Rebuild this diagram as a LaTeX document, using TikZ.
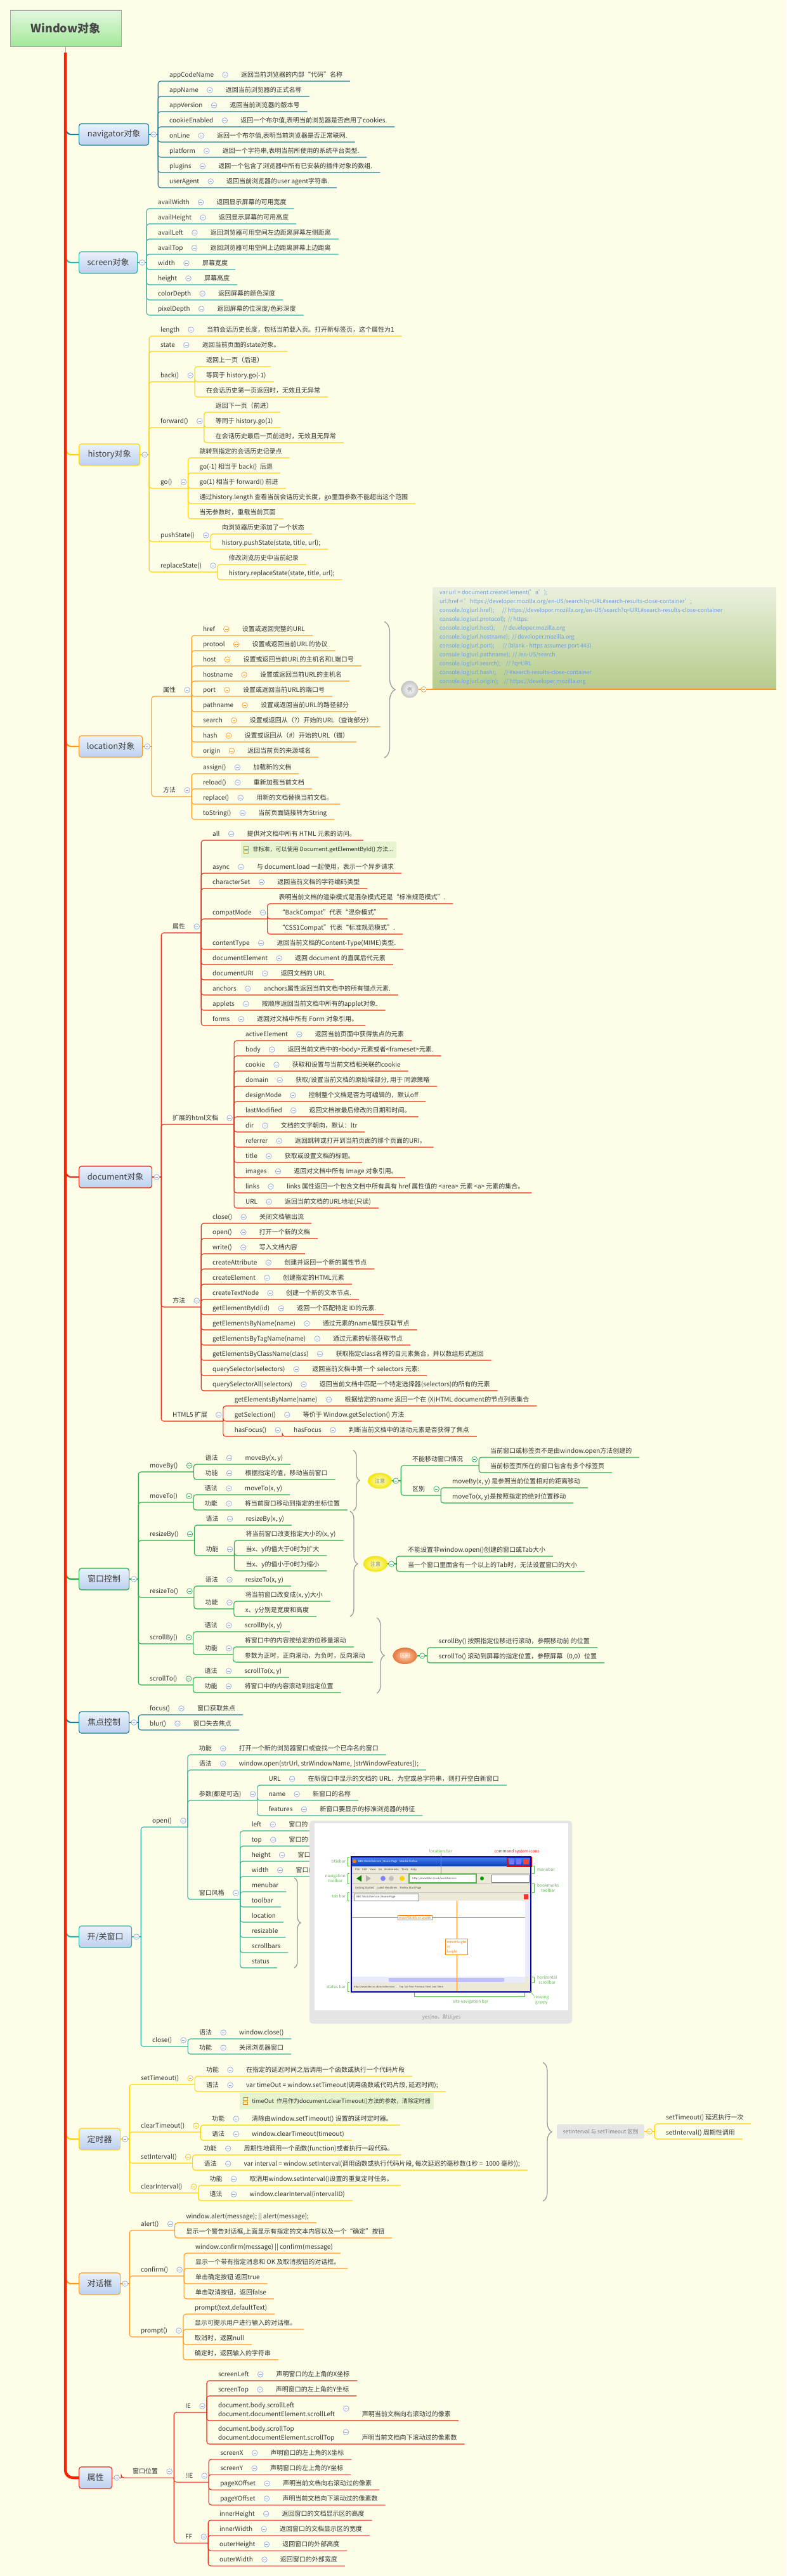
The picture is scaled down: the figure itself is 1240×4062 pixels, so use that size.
\documentclass[tikz,border=0pt]{standalone}
\usepackage{fontspec}
\setmainfont{Noto Sans CJK SC}
\usetikzlibrary{calc,decorations.pathreplacing,shapes.geometric}
\definecolor{bgc}{HTML}{FEFDE8}
\definecolor{txt}{HTML}{333333}
\definecolor{navc}{HTML}{17809A}
\definecolor{scrc}{HTML}{2AB5A5}
\definecolor{hisc}{HTML}{FFD400}
\definecolor{locc}{HTML}{FF9A1F}
\definecolor{docc}{HTML}{EE2A18}
\definecolor{winc}{HTML}{22B04A}
\definecolor{bxt}{HTML}{EAF1FB}
\definecolor{bxb}{HTML}{BCD1EF}
\definecolor{rtt}{HTML}{E3F8DF}
\definecolor{rtb}{HTML}{A3E89A}
\definecolor{cbc}{HTML}{8EA6DC}
\definecolor{orc}{HTML}{F59A23}
\definecolor{grc}{HTML}{1FB04A}
\definecolor{ylc}{HTML}{EFC000}
\definecolor{trk}{HTML}{FF2200}
\definecolor{codec}{HTML}{6E9FE2}
\definecolor{codet}{HTML}{EAF0DF}
\definecolor{codeb}{HTML}{B4CC8A}
\definecolor{notef}{HTML}{E5F3CE}
\definecolor{notei}{HTML}{C89A2A}
\definecolor{brcc}{HTML}{9A9A9A}
\definecolor{lg}{HTML}{5DB34A}
\definecolor{zyi}{HTML}{FFFFD0}
\definecolor{zyo}{HTML}{F2E60A}
\definecolor{qbi}{HTML}{FAD2B4}
\definecolor{qbo}{HTML}{E5773A}
\definecolor{lio}{HTML}{C4C4C4}
\definecolor{winbg}{HTML}{ECE9D8}
\definecolor{tbt}{HTML}{4A84F0}
\definecolor{tbb}{HTML}{0A3FC4}
\colorlet{bc}{navc}
\newcommand\Fsz{\fontsize{10}{12}\selectfont}
\tikzset{
 lbl/.style={inner sep=0pt, outer sep=0pt, font=\Fsz, text=txt, anchor=base west},
 ln/.style={draw=bc, line width=1.1pt, rounded corners=4pt},
 cb/.style={circle, draw=#1, fill=white, line width=0.7pt, minimum size=8.6pt, inner sep=0pt,
   path picture={\draw[#1, line width=0.7pt] ($(path picture bounding box.center)+(-2.2,0)$) -- ($(path picture bounding box.center)+(2.2,0)$);}},
 cb/.default=cbc,
 bbox/.style={rounded corners=4pt, draw=bc, line width=1.2pt, top color=bxt, bottom color=bxb,
   minimum height=34pt, inner xsep=4pt, font=\fontsize{13}{15}\selectfont, text=black!75, anchor=west},
 brc/.style={draw=brcc, line width=1.3pt, decorate, decoration={brace, amplitude=#1}},
 note/.style={fill=notef, inner xsep=5pt, inner ysep=0pt, minimum height=26pt, font=\fontsize{9}{11}\selectfont, text=txt},
 zy/.style={ellipse, inner sep=0pt, minimum width=38pt, minimum height=25pt, inner color=zyi, outer color=zyo, font=\fontsize{8}{9}\selectfont, text=gray},
 qb/.style={ellipse, inner sep=0pt, minimum width=38pt, minimum height=26pt, inner color=qbi, outer color=qbo, font=\fontsize{8}{9}\selectfont, text=white},
 bl/.style={font=\fontsize{6.5}{7.5}\selectfont, text=lg, inner sep=0pt, align=center},
 tiny/.style={anchor=west, inner sep=0pt, font=\fontsize{4.2}{5}\selectfont, text=black!75},
}
\newcommand\rowD[6][cbc]{%
 \coordinate (#2-s) at (#3 |- 0,#4);
 \node[lbl] (#2) at ($(#2-s)+(18,-6.5)$) {#5};
 \node[cb=#1] (#2-c) at ($(#2.base east)+(18,-3.5)$) {};
 \node[lbl] (#2-d) at ($(#2-c)+(25,3.5)$) {#6};
 \coordinate (#2-e) at ($(#2-d.base east)+(12,6.5)$);
 \draw[ln] (#3) |- (#2-e);
}
\newcommand\rowP[5][cbc]{%
 \coordinate (#2-s) at (#3 |- 0,#4);
 \node[lbl] (#2) at ($(#2-s)+(18,-6.5)$) {#5};
 \node[cb=#1] (#2-c) at ($(#2.base east)+(18,-3.5)$) {};
 \coordinate (#2-sp) at ($(#2.base east)+(25,6.5)$);
 \draw[ln] (#3) |- (#2-sp);
}
\newcommand\rowL[4]{%
 \coordinate (#1-s) at (#2 |- 0,#3);
 \node[lbl] (#1) at ($(#1-s)+(18,-6.5)$) {#4};
 \coordinate (#1-e) at ($(#1.base east)+(12,6.5)$);
 \draw[ln] (#2) |- (#1-e);
}
\newcommand\rowT[6]{%
 \coordinate (#1-s) at (#2 |- 0,#3);
 \node[lbl] (#1a) at ($(#1-s)+(18,-21)$) {#4};
 \node[lbl] (#1) at ($(#1-s)+(18,-6.5)$) {#5};
 \node[cb] (#1-c) at ($(#1.base east)+(18,-12.5)$) {};
 \path (#1-c |- #1.base) ++(25,0) node[lbl] (#1-d) {#6};
 \coordinate (#1-e) at ($(#1-d.base east)+(12,6.5)$);
 \draw[ln] (#2) |- (#1-e);
}
\newcommand\bxn[4]{%
 \node[bbox, minimum width=#4pt] (#1) at (124,#2) {#3};
 \coordinate (#1-sp) at ($(#1.east)+(14,0)$);
 \draw[bc, line width=1.1pt] (#1.east) -- (#1-sp);
 \node[cb] (#1-c) at ($(#1.east)+(7,0)$) {};
}
\newcommand\trc[1]{%
 \coordinate (#1-t) at (tr |- #1.west);
 \draw[bc, line width=2.2pt] ($(#1-t)+(1,-6)$) to[out=-60,in=180] ($(#1-t)+(9,0)$) -- (#1.west);
}
\newcommand\nicon[1]{%
 \draw[notei, line width=0.8pt] ($(#1.west)+(5,-5.5)$) rectangle ($(#1.west)+(12,-1)$);
 \draw[notei, line width=0.8pt] ($(#1.west)+(5,1)$) rectangle ($(#1.west)+(12,5.5)$);
}
\begin{document}
\begin{tikzpicture}[x=1pt,y=-1pt]
\useasboundingbox (0,0) rectangle (1240,4062);
\fill[bgc] (0,0) rectangle (1240,4062);

% ---------- root
\node[draw=gray!70, line width=0.8pt, top color=rtt, bottom color=rtb, minimum width=175pt, minimum height=57pt, inner sep=0pt, font=\bfseries\fontsize{18}{20}\selectfont, text=black!72] (root) at (103.5,44.5) {Window对象};
\coordinate (tr) at (103,83);
\draw[gray!70, line width=1pt] (root.south) -- (root.south |- tr);

% ---------- navigator
\colorlet{bc}{navc}
\bxn{nav}{212}{navigator对象}{110}\trc{nav}
\rowD{n1}{nav-sp}{128}{appCodeName}{返回当前浏览器的内部“代码”名称}
\rowD{n2}{nav-sp}{152}{appName}{返回当前浏览器的正式名称}
\rowD{n3}{nav-sp}{176}{appVersion}{返回当前浏览器的版本号}
\rowD{n4}{nav-sp}{200}{cookieEnabled}{返回一个布尔值,表明当前浏览器是否启用了cookies.}
\rowD{n5}{nav-sp}{224}{onLine}{返回一个布尔值,表明当前浏览器是否正常联网.}
\rowD{n6}{nav-sp}{248}{platform}{返回一个字符串,表明当前所使用的系统平台类型.}
\rowD{n7}{nav-sp}{272}{plugins}{返回一个包含了浏览器中所有已安装的插件对象的数组.}
\rowD{n8}{nav-sp}{296}{userAgent}{返回当前浏览器的user agent字符串.}

% ---------- screen
\colorlet{bc}{scrc}
\bxn{scr}{414}{screen对象}{92}\trc{scr}
\rowD{s1}{scr-sp}{329}{availWidth}{返回显示屏幕的可用宽度}
\rowD{s2}{scr-sp}{353}{availHeight}{返回显示屏幕的可用高度}
\rowD{s3}{scr-sp}{377}{availLeft}{返回浏览器可用空间左边距离屏幕左侧距离}
\rowD{s4}{scr-sp}{401}{availTop}{返回浏览器可用空间上边距离屏幕上边距离}
\rowD{s5}{scr-sp}{425}{width}{屏幕宽度}
\rowD{s6}{scr-sp}{449}{height}{屏幕高度}
\rowD{s7}{scr-sp}{473}{colorDepth}{返回屏幕的颜色深度}
\rowD{s8}{scr-sp}{497}{pixelDepth}{返回屏幕的位深度/色彩深度}

% ---------- history
\colorlet{bc}{hisc}
\bxn{his}{717}{history对象}{96}\trc{his}
\rowD{h1}{his-sp}{530}{length}{当前会话历史长度，包括当前载入页。打开新标签页，这个属性为1}
\rowD{h2}{his-sp}{554}{state}{返回当前页面的state对象。}
\rowP{h3}{his-sp}{602}{back()}
 \rowL{h31}{h3-sp}{578}{返回上一页（后退）}
 \rowL{h32}{h3-sp}{602}{等同于 history.go(-1)}
 \rowL{h33}{h3-sp}{626}{在会话历史第一页返回时，无效且无异常}
\rowP{h4}{his-sp}{674}{forward()}
 \rowL{h41}{h4-sp}{650}{返回下一页（前进）}
 \rowL{h42}{h4-sp}{674}{等同于 history.go(1)}
 \rowL{h43}{h4-sp}{698}{在会话历史最后一页前进时，无效且无异常}
\rowP{h5}{his-sp}{770}{go()}
 \rowL{h51}{h5-sp}{722}{跳转到指定的会话历史记录点}
 \rowL{h52}{h5-sp}{746}{go(-1) 相当于 back()\ \ 后退}
 \rowL{h53}{h5-sp}{770}{go(1) 相当于 forward() 前进}
 \rowL{h54}{h5-sp}{794}{通过history.length 查看当前会话历史长度，go里面参数不能超出这个范围}
 \rowL{h55}{h5-sp}{818}{当无参数时，重载当前页面}
\rowP{h6}{his-sp}{854}{pushState()}
 \rowL{h61}{h6-sp}{842}{向浏览器历史添加了一个状态}
 \rowL{h62}{h6-sp}{866}{history.pushState(state, title, url);}
\rowP{h7}{his-sp}{902}{replaceState()}
 \rowL{h71}{h7-sp}{890}{修改浏览历史中当前纪录}
 \rowL{h72}{h7-sp}{914}{history.replaceState(state, title, url);}

% ---------- location
\colorlet{bc}{locc}
\bxn{loc}{1177}{location对象}{100}\trc{loc}
\rowP{lp}{loc-sp}{1098}{属性}
 \rowD[orc]{l1}{lp-sp}{1002}{href}{设置或返回完整的URL}
 \rowD[orc]{l2}{lp-sp}{1026}{protool}{设置或返回当前URL的协议}
 \rowD[orc]{l3}{lp-sp}{1050}{host}{设置或返回当前URL的主机名和L端口号}
 \rowD[orc]{l4}{lp-sp}{1074}{hostname}{设置或返回当前URL的主机名}
 \rowD[orc]{l5}{lp-sp}{1098}{port}{设置或返回当前URL的端口号}
 \rowD[orc]{l6}{lp-sp}{1122}{pathname}{设置或返回当前URL的路径部分}
 \rowD[orc]{l7}{lp-sp}{1146}{search}{设置或返回从（?）开始的URL（查询部分）}
 \rowD[orc]{l8}{lp-sp}{1170}{hash}{设置或返回从（\#）开始的URL（锚）}
 \rowD[orc]{l9}{lp-sp}{1194}{origin}{返回当前页的来源域名}
\rowP{lm}{loc-sp}{1256}{方法}
 \rowD{l10}{lm-sp}{1220}{assign()}{加载新的文档}
 \rowD{l11}{lm-sp}{1244}{reload()}{重新加载当前文档}
 \rowD{l12}{lm-sp}{1268}{replace()}{用新的文档替换当前文档。}
 \rowD{l13}{lm-sp}{1292}{toString()}{当前页面链接转为String}
\coordinate (lb1) at (606,980);
\coordinate (lb2) at (606,1195);
\draw[brc=17pt] (lb1) -- (lb2);
\node[top color=codet, bottom color=codeb, minimum width=542pt, minimum height=160pt, anchor=north west, inner sep=0pt] (code) at (682,926) {};
\node[anchor=north west, align=left, inner sep=0pt, font=\fontsize{8.8}{14}\selectfont, text=codec] (codetx) at (693,930) {%
var url = document.createElement('a');\\
url.href = 'https://developer.mozilla.org/en-US/search?q=URL\#search-results-close-container';\\
console.log(url.href);\quad\ \ // https://developer.mozilla.org/en-US/search?q=URL\#search-results-close-container\\
console.log(url.protocol);\ \ // https:\\
console.log(url.host);\quad\ \ // developer.mozilla.org\\
console.log(url.hostname);\ \ // developer.mozilla.org\\
console.log(url.port);\quad\ \ // (blank - https assumes port 443)\\
console.log(url.pathname);\ \ // /en-US/search\\
console.log(url.search);\quad // ?q=URL\\
console.log(url.hash);\quad\ \ // \#search-results-close-container\\
console.log(url.origin);\quad // https://developer.mozilla.org};
\node[ellipse, inner sep=0pt, minimum width=27pt, minimum height=27pt, inner color=white, outer color=lio, font=\fontsize{8}{9}\selectfont, text=gray] (li) at (646,1087) {例};
\coordinate (codeend) at (1224,1087);
\draw[locc, line width=1.1pt] (li.east) -- (codeend);
\node[cb=orc] (li-c) at ($(li.east)+(8.5,0)$) {};

% ---------- document
\colorlet{bc}{docc}
\bxn{doc}{1856}{document对象}{115}\trc{doc}
\rowP{dp}{doc-sp}{1471}{属性}
 \rowD{d1}{dp-sp}{1325}{all}{提供对文档中所有 HTML 元素的访问。}
 \path (d1-c |- 0,1327) ++(15,0) node[note, anchor=north west] (d1n) {\hspace{14pt}非标准，可以使用 Document.getElementById() 方法...};
 \nicon{d1n}
 \rowD{d2}{dp-sp}{1377}{async}{与 document.load 一起使用，表示一个异步请求}
 \rowD{d3}{dp-sp}{1401}{characterSet}{返回当前文档的字符编码类型}
 \rowP{d4}{dp-sp}{1449}{compatMode}
  \rowL{d41}{d4-sp}{1425}{表明当前文档的渲染模式是混杂模式还是“标准规范模式”.}
  \rowL{d42}{d4-sp}{1449}{“BackCompat”代表“混杂模式”}
  \rowL{d43}{d4-sp}{1473}{“CSS1Compat”代表“标准规范模式”.}
 \rowD{d5}{dp-sp}{1497}{contentType}{返回当前文档的Content-Type(MIME)类型.}
 \rowD{d6}{dp-sp}{1521}{documentElement}{返回 document 的直属后代元素}
 \rowD{d7}{dp-sp}{1545}{documentURI}{返回文档的 URL}
 \rowD{d8}{dp-sp}{1569}{anchors}{anchors属性返回当前文档中的所有锚点元素.}
 \rowD{d9}{dp-sp}{1593}{applets}{按顺序返回当前文档中所有的applet对象.}
 \rowD{d10}{dp-sp}{1617}{forms}{返回对文档中所有 Form 对象引用。}
\rowP{dx}{doc-sp}{1773}{扩展的html文档}
 \rowD{e1}{dx-sp}{1641}{activeElement}{返回当前页面中获得焦点的元素}
 \rowD{e2}{dx-sp}{1665}{body}{返回当前文档中的<body>元素或者<frameset>元素.}
 \rowD{e3}{dx-sp}{1689}{cookie}{获取和设置与当前文档相关联的cookie}
 \rowD{e4}{dx-sp}{1713}{domain}{获取/设置当前文档的原始域部分, 用于 同源策略}
 \rowD{e5}{dx-sp}{1737}{designMode}{控制整个文档是否为可编辑的，默认off}
 \rowD{e6}{dx-sp}{1761}{lastModified}{返回文档被最后修改的日期和时间。}
 \rowD{e7}{dx-sp}{1785}{dir}{文档的文字朝向，默认：ltr}
 \rowD{e8}{dx-sp}{1809}{referrer}{返回跳转或打开到当前页面的那个页面的URI。}
 \rowD{e9}{dx-sp}{1833}{title}{获取或设置文档的标题。}
 \rowD{e10}{dx-sp}{1857}{images}{返回对文档中所有 Image 对象引用。}
 \rowD{e11}{dx-sp}{1881}{links}{links 属性返回一个包含文档中所有具有 href 属性值的 <area> 元素 <a> 元素的集合。}
 \rowD{e12}{dx-sp}{1905}{URL}{返回当前文档的URL地址(只读)}
\rowP{dm}{doc-sp}{2061}{方法}
 \rowD{m1}{dm-sp}{1929}{close()}{关闭文档输出流}
 \rowD{m2}{dm-sp}{1953}{open()}{打开一个新的文档}
 \rowD{m3}{dm-sp}{1977}{write()}{写入文档内容}
 \rowD{m4}{dm-sp}{2001}{createAttribute}{创建并返回一个新的属性节点}
 \rowD{m5}{dm-sp}{2025}{createElement}{创建指定的HTML元素}
 \rowD{m6}{dm-sp}{2049}{createTextNode}{创建一个新的文本节点.}
 \rowD{m7}{dm-sp}{2073}{getElementById(id)}{返回一个匹配特定 ID的元素.}
 \rowD{m8}{dm-sp}{2097}{getElementsByName(name)}{通过元素的name属性获取节点}
 \rowD{m9}{dm-sp}{2121}{getElementsByTagName(name)}{通过元素的标签获取节点}
 \rowD{m10}{dm-sp}{2145}{getElementsByClassName(class)}{获取指定class名称的自元素集合，并以数组形式返回}
 \rowD{m11}{dm-sp}{2169}{querySelector(selectors)}{返回当前文档中第一个 selectors 元素:}
 \rowD{m12}{dm-sp}{2193}{querySelectorAll(selectors)}{返回当前文档中匹配一个特定选择器(selectors)的所有的元素}
\rowP{dh}{doc-sp}{2241}{HTML5 扩展}
 \rowD{k1}{dh-sp}{2217}{getElementsByName(name)}{根据给定的name 返回一个在 (X)HTML document的节点列表集合}
 \rowD{k2}{dh-sp}{2241}{getSelection()}{等价于 Window.getSelection() 方法}
 \rowP{k3}{dh-sp}{2265}{hasFocus()}
  \rowD{k31}{k3-sp}{2265}{hasFocus}{判断当前文档中的活动元素是否获得了焦点}

% ---------- 窗口控制
\colorlet{bc}{winc}
\bxn{win}{2490}{窗口控制}{79}\trc{win}
\rowP[grc]{w1}{win-sp}{2321}{moveBy()}
 \rowD{w11}{w1-sp}{2309}{语法}{moveBy(x, y)}
 \rowD{w12}{w1-sp}{2333}{功能}{根据指定的值，移动当前窗口}
\rowP[grc]{w2}{win-sp}{2369}{moveTo()}
 \rowD{w21}{w2-sp}{2357}{语法}{moveTo(x, y)}
 \rowD{w22}{w2-sp}{2381}{功能}{将当前窗口移动到指定的坐标位置}
\rowP[grc]{w3}{win-sp}{2429}{resizeBy()}
 \rowD{w31}{w3-sp}{2405}{语法}{resizeBy(x, y)}
 \rowP{w32}{w3-sp}{2453}{功能}
  \rowL{w321}{w32-sp}{2429}{将当前窗口改变指定大小的(x, y)}
  \rowL{w322}{w32-sp}{2453}{当x、y的值大于0时为扩大}
  \rowL{w323}{w32-sp}{2477}{当x、y的值小于0时为缩小}
\rowP[grc]{w4}{win-sp}{2519}{resizeTo()}
 \rowD{w41}{w4-sp}{2501}{语法}{resizeTo(x, y)}
 \rowP{w42}{w4-sp}{2537}{功能}
  \rowL{w421}{w42-sp}{2525}{将当前窗口改变成(x, y)大小}
  \rowL{w422}{w42-sp}{2549}{x、y分别是宽度和高度}
\rowP[grc]{w5}{win-sp}{2592}{scrollBy()}
 \rowD{w51}{w5-sp}{2573}{语法}{scrollBy(x, y)}
 \rowP{w52}{w5-sp}{2609}{功能}
  \rowL{w521}{w52-sp}{2597}{将窗口中的内容按给定的位移量滚动}
  \rowL{w522}{w52-sp}{2621}{参数为正时，正向滚动，为负时，反向滚动}
\rowP[grc]{w6}{win-sp}{2657}{scrollTo()}
 \rowD{w61}{w6-sp}{2645}{语法}{scrollTo(x, y)}
 \rowD{w62}{w6-sp}{2669}{功能}{将窗口中的内容滚动到指定位置}
% notes
\coordinate (wb1a) at (557,2287);
\coordinate (wb1b) at (557,2382);
\draw[brc=10pt] (wb1a) -- (wb1b);
\node[zy] (zy1) at (599,2335) {注意};
\coordinate (zy1-sp) at ($(zy1.east)+(14,0)$);
\draw[bc, line width=1.1pt] (zy1.east) -- (zy1-sp);
\node[cb=grc] (zy1-c) at ($(zy1.east)+(6,0)$) {};
\rowP[grc]{z1}{zy1-sp}{2311}{不能移动窗口情况}
 \rowL{z11}{z1-sp}{2298}{当前窗口或标签页不是由window.open方法创建的}
 \rowL{z12}{z1-sp}{2322}{当前标签页所在的窗口包含有多个标签页}
\rowP[grc]{z2}{zy1-sp}{2358}{区别}
 \rowL{z21}{z2-sp}{2346}{moveBy(x, y) 是参照当前位置相对的距离移动}
 \rowL{z22}{z2-sp}{2370}{moveTo(x, y)是按照指定的绝对位置移动}
\coordinate (wb2a) at (552,2383);
\coordinate (wb2b) at (552,2549);
\draw[brc=12pt] (wb2a) -- (wb2b);
\node[zy] (zy2) at (592,2466) {注意};
\coordinate (zy2-sp) at ($(zy2.east)+(14,0)$);
\draw[bc, line width=1.1pt] (zy2.east) -- (zy2-sp);
\node[cb=grc] (zy2-c) at ($(zy2.east)+(6,0)$) {};
 \rowL{y1}{zy2-sp}{2454}{不能设置非window.open()创建的窗口或Tab大小}
 \rowL{y2}{zy2-sp}{2478}{当一个窗口里面含有一个以上的Tab时，无法设置窗口的大小}
\coordinate (wb3a) at (594,2551);
\coordinate (wb3b) at (594,2670);
\draw[brc=12pt] (wb3a) -- (wb3b);
\node[qb] (qb1) at (638.5,2611) {区别};
\coordinate (qb1-sp) at ($(qb1.east)+(16,0)$);
\draw[bc, line width=1.1pt] (qb1.east) -- (qb1-sp);
\node[cb=grc] (qb1-c) at ($(qb1.east)+(8,0)$) {};
 \rowL{q1}{qb1-sp}{2598}{scrollBy() 按照指定位移进行滚动，参照移动前 的位置}
 \rowL{q2}{qb1-sp}{2622}{scrollTo() 滚动到屏幕的指定位置，参照屏幕（0,0）位置}

% ---------- 焦点控制
\colorlet{bc}{navc}
\bxn{foc}{2716}{焦点控制}{79}\trc{foc}
\rowD{f1}{foc-sp}{2704}{focus()}{窗口获取焦点}
\rowD{f2}{foc-sp}{2728}{blur()}{窗口失去焦点}

% ---------- 开/关窗口
\colorlet{bc}{scrc}
\bxn{opn}{3054}{开/关窗口}{83}\trc{opn}
\rowP{o1}{opn-sp}{2881}{open()}
 \rowD{o11}{o1-sp}{2767}{功能}{打开一个新的浏览器窗口或查找一个已命名的窗口}
 \rowD{o12}{o1-sp}{2791}{语法}{window.open(strUrl, strWindowName, [strWindowFeatures]);}
 \rowP{o13}{o1-sp}{2839}{参数(都是可选)}
  \rowD{o131}{o13-sp}{2815}{URL}{在新窗口中显示的文档的 URL，为空或总字符串，则打开空白新窗口}
  \rowD{o132}{o13-sp}{2839}{name}{新窗口的名称}
  \rowD{o133}{o13-sp}{2863}{features}{新窗口要显示的标准浏览器的特征}
 \rowP{o14}{o1-sp}{2995}{窗口风格}
  \rowD{o141}{o14-sp}{2887}{left}{窗口的}
  \rowD{o142}{o14-sp}{2911}{top}{窗口的}
  \rowD{o143}{o14-sp}{2935}{height}{窗口的}
  \rowD{o144}{o14-sp}{2959}{width}{窗口的}
  \rowL{o145}{o14-sp}{2983}{menubar}
  \rowL{o146}{o14-sp}{3007}{toolbar}
  \rowL{o147}{o14-sp}{3031}{location}
  \rowL{o148}{o14-sp}{3055}{resizable}
  \rowL{o149}{o14-sp}{3079}{scrollbars}
  \rowL{o150}{o14-sp}{3103}{status}
\rowP{o2}{opn-sp}{3227}{close()}
 \rowD{o21}{o2-sp}{3215}{语法}{window.close()}
 \rowD{o22}{o2-sp}{3239}{功能}{关闭浏览器窗口}
\coordinate (ob1) at (464,2961);
\coordinate (ob2) at (464,3103);
\draw[brc=10pt] (ob1) -- (ob2);
% picture panel
\fill[gray!20, rounded corners=5pt] (488,2871) rectangle (902,3191);
\fill[white] (496,2875) rectangle (896,3170);
\node[font=\fontsize{8}{9}\selectfont, text=gray!85, inner sep=0pt] (capt) at (696,3181) {yes|no，默认yes};
\fill[winbg] (554,2928) rectangle (837,3141);
\fill[white] (555,2997) rectangle (828,3117);
\shade[top color=tbt, bottom color=tbb] (554,2928) rectangle (837,2942);
\fill[orange] (559,2935) circle (3);
\node[tiny, text=white] (ttl) at (565,2935) {BBC World Service | Home Page - Mozilla Firefox};
\fill[blue!55] (803,2931) rectangle (811,2940);
\fill[blue!55] (814,2931) rectangle (822,2940);
\fill[red!75] (825,2931) rectangle (834,2940);
\draw[red, line width=1.2pt] (800,2929) rectangle (838,2943);
\node[tiny] (mnu) at (560,2948) {File\quad Edit\quad View\quad Go\quad Bookmarks\quad Tools\quad Help};
\draw[gray!50] (555,2954) -- (836,2954);
\fill[green!50!black] (562,2962) -- (570,2957) -- (570,2967) -- cycle;
\fill[gray!60] (585,2962) -- (577,2957) -- (577,2967) -- cycle;
\fill[blue!50] (604,2962) circle (4);
\fill[gray!50] (617,2962) circle (4);
\fill[yellow!70!orange] (634,2962) circle (4);
\draw[lg, line width=1.2pt, fill=white] (645,2955) rectangle (751,2969);
\node[tiny] (urlt) at (650,2962) {http://www.bbc.co.uk/worldservice};
\fill[green!60!black] (760,2962) circle (3);
\draw[gray, fill=white] (775,2956) rectangle (834,2968);
\draw[gray!50] (555,2970) -- (836,2970);
\node[tiny] (bkm) at (560,2977) {Getting Started\quad Latest Headlines\quad Firefox Start Page};
\draw[gray!50] (555,2984) -- (836,2984);
\draw[gray, fill=white] (558,2986) rectangle (660,2997);
\node[tiny] (tabt) at (562,2991.5) {BBC World Service | Home Page};
\fill[red!80] (826,2987) rectangle (833,2995);
\fill[blue!8] (828,2997) rectangle (836,3117);
\fill[blue!8] (555,3117) rectangle (828,3126);
\fill[blue!25] (613,3118.5) rectangle (795,3124.5);
\node[tiny, font=\fontsize{3.8}{4.5}\selectfont] (stt) at (558,3133) {http://www.bbc.co.uk/worldservice/...\quad Top\ \ Up\ \ First\ \ Previous\ \ Next\ \ Last\ \ More};
\draw[blue!70!black, line width=1.5pt] (554,2928) rectangle (837,3141);
\draw[orange!90, line width=0.8pt] (555,3023) -- (828,3023);
\draw[orange!90, line width=0.8pt] (720,2997) -- (720,3140);
\node[draw=orange, fill=white, line width=0.8pt, font=\fontsize{5.5}{6.5}\selectfont, text=orange, inner sep=1.5pt] (iw) at (654.5,3024) {innerWidth or width};
\node[draw=orange, fill=white, line width=0.8pt, font=\fontsize{5.5}{7.5}\selectfont, text=orange, inner sep=2pt, align=left] (ih) at (720,3070) {innerHeight\\or\\height};
\node[bl, text=red] (lcs) at (815,2920) {command system icons};
\node[bl] (llb) at (695,2919) {location bar};
\draw[lg, line width=0.6pt] (llb.south) -- (695,2955);
\node[bl, anchor=east] (ltb) at (545,2935) {titlebar};
\draw[lg, line width=0.6pt] (551,2928) -- (548,2928) -- (548,2942) -- (551,2942);
\node[bl, anchor=west] (lmb) at (847,2948) {menubar};
\draw[lg, line width=0.6pt] (839,2942) -- (842,2942) -- (842,2954) -- (839,2954);
\node[bl, anchor=east] (lnt) at (545,2962) {navigation\\toolbar};
\draw[lg, line width=0.6pt] (551,2954) -- (548,2954) -- (548,2970) -- (551,2970);
\node[bl, anchor=west] (lbt) at (847,2977) {bookmarks\\toolbar};
\draw[lg, line width=0.6pt] (839,2970) -- (842,2970) -- (842,2984) -- (839,2984);
\node[bl, anchor=east] (ltab) at (545,2990) {tab bar};
\draw[lg, line width=0.6pt] (551,2984) -- (548,2984) -- (548,2997) -- (551,2997);
\node[bl, anchor=west] (lhs) at (847,3122) {horizontal\\scrollbar};
\draw[lg, line width=0.6pt] (839,3117) -- (842,3117) -- (842,3126) -- (839,3126);
\node[bl, anchor=east] (lsb) at (545,3133) {status bar};
\draw[lg, line width=0.6pt] (551,3126) -- (548,3126) -- (548,3140) -- (551,3140);
\node[bl, anchor=west] (lrg) at (842,3154) {resizing\\grippy};
\draw[lg, line width=0.6pt] (836,3140) -- (842,3147);
\draw[lg, line width=0.6pt] (653,3142) -- (653,3148) -- (827,3148) -- (827,3142);
\node[bl] (lsn) at (742,3157) {site navigation bar};

% ---------- 定时器
\colorlet{bc}{hisc}
\bxn{tim}{3373}{定时器}{65}\trc{tim}
\rowP[ylc]{t1}{tim-sp}{3287}{setTimeout()}
 \rowD{t11}{t1-sp}{3274}{功能}{在指定的延迟时间之后调用一个函数或执行一个代码片段}
 \rowD{t12}{t1-sp}{3298}{语法}{var timeOut = window.setTimeout(调用函数或代码片段, 延迟时间);}
 \path (t12-c |- 0,3300) ++(15,0) node[note, anchor=north west] (t1n) {\hspace{14pt}timeOut\ \ 作用作为document.clearTimeout()方法的参数，清除定时器};
 \nicon{t1n}
\rowP[ylc]{t2}{tim-sp}{3362}{clearTimeout()}
 \rowD{t21}{t2-sp}{3351}{功能}{清除由window.setTimeout() 设置的延时定时器。}
 \rowD{t22}{t2-sp}{3375}{语法}{window.clearTimeout(timeout)}
\rowP[ylc]{t3}{tim-sp}{3411}{setInterval()}
 \rowD{t31}{t3-sp}{3398}{功能}{周期性地调用一个函数(function)或者执行一段代码。}
 \rowD{t32}{t3-sp}{3422}{语法}{var interval = window.setInterval(调用函数或执行代码片段, 每次延迟的毫秒数(1秒 =\ \ 1000 毫秒));}
\rowP[ylc]{t4}{tim-sp}{3458}{clearInterval()}
 \rowD{t41}{t4-sp}{3446}{功能}{取消用window.setInterval()设置的重复定时任务。}
 \rowD{t42}{t4-sp}{3470}{语法}{window.clearInterval(intervalID)}
\coordinate (tb1) at (856,3252);
\coordinate (tb2) at (856,3471);
\draw[brc=14pt] (tb1) -- (tb2);
\node[fill=gray!20, rounded corners=3pt, minimum width=138pt, minimum height=23pt, inner sep=2pt, font=\fontsize{8.5}{10}\selectfont, text=gray] (tg) at (947,3361) {setInterval 与 setTimeout 区别};
\coordinate (tg-sp) at ($(tg.east)+(16,0)$);
\draw[bc, line width=1.1pt] (tg.east) -- (tg-sp);
\node[cb=ylc] (tg-c) at ($(tg.east)+(8,0)$) {};
 \rowL{u1}{tg-sp}{3349}{setTimeout() 延迟执行一次}
 \rowL{u2}{tg-sp}{3373}{setInterval() 周期性调用}

% ---------- 对话框
\colorlet{bc}{locc}
\bxn{dlg}{3601}{对话框}{65}\trc{dlg}
\rowP{a1}{dlg-sp}{3517}{alert()}
 \rowL{a11}{a1-sp}{3505}{window.alert(message); || alert(message);}
 \rowL{a12}{a1-sp}{3529}{显示一个警告对话框,上面显示有指定的文本内容以及一个“确定”按钮}
\rowP{a2}{dlg-sp}{3589}{confirm()}
 \rowL{a21}{a2-sp}{3553}{window.confirm(message) || confirm(message)}
 \rowL{a22}{a2-sp}{3577}{显示一个带有指定消息和 OK 及取消按钮的对话框。}
 \rowL{a23}{a2-sp}{3601}{单击确定按钮 返回true}
 \rowL{a24}{a2-sp}{3625}{单击取消按钮，返回false}
\rowP{a3}{dlg-sp}{3685}{prompt()}
 \rowL{a31}{a3-sp}{3649}{prompt(text,defaultText)}
 \rowL{a32}{a3-sp}{3673}{显示可提示用户进行输入的对话框。}
 \rowL{a33}{a3-sp}{3697}{取消时，返回null}
 \rowL{a34}{a3-sp}{3721}{确定时，返回输入的字符串}

% ---------- 属性
\colorlet{bc}{docc}
\bxn{attr}{3907}{属性}{52}
\rowP{p0}{attr-sp}{3907}{窗口位置}
 \rowP{p1}{p0-sp}{3804}{IE}
  \rowD{p11}{p1-sp}{3754}{screenLeft}{声明窗口的左上角的X坐标}
  \rowD{p12}{p1-sp}{3778}{screenTop}{声明窗口的左上角的Y坐标}
  \rowT{p13}{p1-sp}{3817}{document.body.scrollLeft}{document.documentElement.scrollLeft}{声明当前文档向右滚动过的像素}
  \rowT{p14}{p1-sp}{3854}{document.body.scrollTop}{document.documentElement.scrollTop}{声明当前文档向下滚动过的像素数}
 \rowP{p2}{p0-sp}{3914}{!IE}
  \rowD{p21}{p2-sp}{3878}{screenX}{声明窗口的左上角的X坐标}
  \rowD{p22}{p2-sp}{3902}{screenY}{声明窗口的左上角的Y坐标}
  \rowD{p23}{p2-sp}{3926}{pageXOffset}{声明当前文档向右滚动过的像素}
  \rowD{p24}{p2-sp}{3950}{pageYOffset}{声明当前文档向下滚动过的像素数}
 \rowP{p3}{p0-sp}{4010}{FF}
  \rowD{p31}{p3-sp}{3974}{innerHeight}{返回窗口的文档显示区的高度}
  \rowD{p32}{p3-sp}{3998}{innerWidth}{返回窗口的文档显示区的宽度}
  \rowD{p33}{p3-sp}{4022}{outerHeight}{返回窗口的外部高度}
  \rowD{p34}{p3-sp}{4046}{outerWidth}{返回窗口的外部宽度}

% ---------- trunk
\draw[trk, line width=4.5pt, rounded corners=12pt] (tr) |- (attr.west);
\end{tikzpicture}
\end{document}
